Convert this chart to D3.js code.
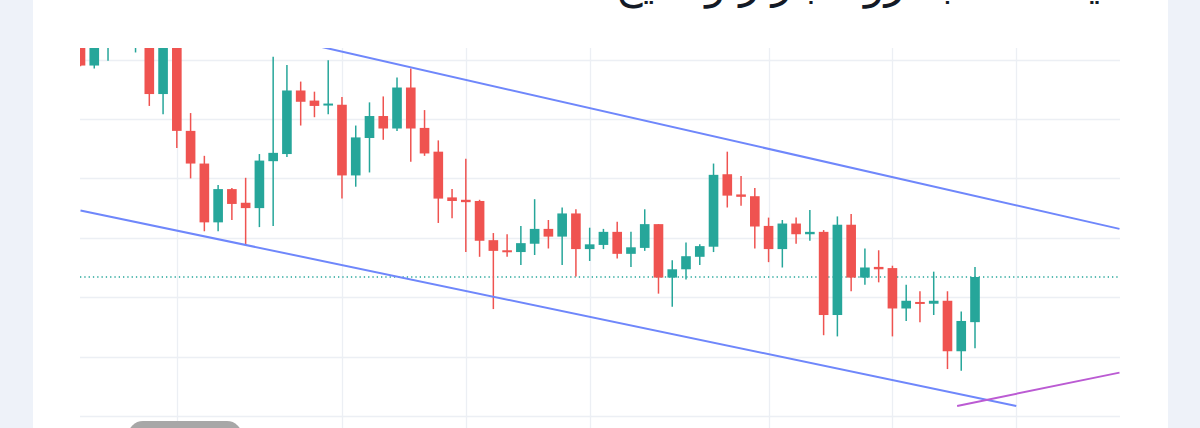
<!DOCTYPE html>
<html>
<head>
<meta charset="utf-8">
<script src="https://cdn.jsdelivr.net/npm/d3@7"></script>
<style>
  html, body { margin: 0; padding: 0; background: #eef2f9; }
  svg { display: block; }
</style>
</head>
<body>
<svg id="chart" width="1200" height="428"></svg>
<script>
// OHLC series (one candle per bar index)
const openPrices = [162.3,159.0,163.3,165.0,164.5,166.5,154.2,165.0,148.0,142.5,132.6,138.2,135.9,135.0,142.9,144.1,154.8,153.1,152.4,152.4,140.5,146.8,150.5,148.4,155.3,148.5,144.5,136.8,136.4,136.2,129.6,127.9,127.6,129.0,131.5,130.2,134.1,128.1,128.8,131.0,127.3,128.3,132.3,123.3,124.7,126.8,128.5,140.7,137.3,137.0,132.0,128.1,132.4,130.6,131.0,117.0,132.2,123.3,125.1,124.9,118.1,119.2,118.9,119.4,110.9,115.8];
const highPrices = [163.3,163.3,165.8,167.5,168.0,168.0,167.0,166.0,151.0,143.8,138.9,138.4,140.1,144.1,160.5,159.1,156.3,154.6,159.9,153.7,148.9,152.8,153.8,157.0,158.5,151.5,146.4,138.2,143.3,136.4,130.8,130.6,132.0,136.5,133.0,135.1,134.8,131.7,131.5,132.7,131.0,134.8,132.3,126.2,129.2,128.9,142.5,144.5,140.4,138.4,133.4,133.0,133.4,134.7,131.3,133.6,134.0,128.2,127.9,125.3,122.1,121.0,124.3,121.0,117.6,125.1];
const lowPrices = [158.9,158.5,159.8,164.0,161.2,152.2,150.8,145.1,140.0,131.1,131.1,133.0,128.8,131.8,132.0,143.6,148.9,150.3,150.8,136.6,138.6,141.0,146.5,148.0,142.8,143.8,132.5,133.3,127.6,126.8,118.0,126.8,125.4,127.1,128.2,125.4,123.5,126.1,128.1,126.5,125.1,127.8,120.6,118.4,123.0,125.4,127.6,135.1,135.4,128.2,125.9,125.0,129.0,129.5,113.6,113.4,121.0,122.1,122.5,113.4,116.0,115.8,117.0,107.9,107.6,111.4];
const closePrices = [159.0,162.6,165.0,166.5,167.0,154.2,165.5,148.0,142.5,132.6,138.2,135.7,135.0,143.0,144.3,154.8,152.9,152.2,152.6,140.5,146.9,150.5,148.4,155.3,148.4,144.2,136.6,136.2,136.0,129.5,127.8,127.6,129.1,131.5,130.2,134.1,128.1,128.9,131.0,127.3,128.4,132.3,123.3,124.7,126.9,128.6,140.6,137.1,136.9,131.9,128.1,132.4,130.6,131.0,117.0,132.2,123.3,125.0,124.7,118.1,119.4,118.9,119.4,110.9,116.0,123.4];

// Price grid levels and time grid positions (bar indices)
const priceTicks = [100, 110, 120, 130, 140, 150, 160];
const timeTicks = [7, 19, 28, 37, 50, 59, 68];

// Drawn trend lines: [barIndex, price] anchors
const upperChannel = [[17, 162.4], [75.5, 131.5]];
const lowerChannel = [[0, 134.6], [68, 101.7]];
const supportLine = [[63.7, 101.7], [75.5, 107.3]];

const titleText = "یک نگاه به روند بازار و نتایج";

const candles = openPrices.map((o, i) => ({
  i, open: o, high: highPrices[i], low: lowPrices[i], close: closePrices[i]
}));

const svg = d3.select("#chart");
const W = 1200, H = 428;
const plot = { left: 80, right: 1120, top: 48, bottom: 445 };

// page card
svg.append("rect").attr("x", 0).attr("y", 0).attr("width", W).attr("height", H).attr("fill", "#eef2f9");
svg.append("rect").attr("x", 33).attr("y", 0).attr("width", 1135).attr("height", H).attr("fill", "#ffffff");

const x = d3.scaleLinear().domain([0, 65]).range([80.5, 975]);
const y = d3.scaleLinear().domain([100, 160]).range([416, 59.6]);
const step = x(1) - x(0);
const bodyW = step * 0.7;

svg.append("defs").append("clipPath").attr("id", "plotClip")
  .append("rect")
  .attr("x", plot.left).attr("y", plot.top)
  .attr("width", plot.right - plot.left).attr("height", plot.bottom - plot.top);

const g = svg.append("g").attr("clip-path", "url(#plotClip)");

// grid
g.append("g").selectAll("line").data(priceTicks).join("line")
  .attr("x1", plot.left).attr("x2", plot.right)
  .attr("y1", d => Math.round(y(d)) + 0.5).attr("y2", d => Math.round(y(d)) + 0.5)
  .attr("stroke", "#eceff4").attr("stroke-width", 1.3);
g.append("g").selectAll("line").data(timeTicks).join("line")
  .attr("x1", d => Math.round(x(d)) + 0.5).attr("x2", d => Math.round(x(d)) + 0.5)
  .attr("y1", plot.top).attr("y2", plot.bottom)
  .attr("stroke", "#eceff4").attr("stroke-width", 1.3);

// last price line
const last = closePrices[closePrices.length - 1];
g.append("line")
  .attr("x1", plot.left).attr("x2", plot.right)
  .attr("y1", y(last)).attr("y2", y(last))
  .attr("stroke", "#26a69a").attr("stroke-width", 1.3)
  .attr("stroke-dasharray", "1.3,3");

// candles
const up = "#26a69a", down = "#ef5350";
const cg = g.append("g").selectAll("g").data(candles).join("g");
cg.append("line")
  .attr("x1", d => x(d.i)).attr("x2", d => x(d.i))
  .attr("y1", d => y(d.high)).attr("y2", d => y(d.low))
  .attr("stroke", d => d.close >= d.open ? up : down)
  .attr("stroke-width", 1.5);
cg.append("rect")
  .attr("x", d => x(d.i) - bodyW / 2)
  .attr("width", bodyW)
  .attr("y", d => y(Math.max(d.open, d.close)))
  .attr("height", d => Math.max(2, Math.abs(y(d.open) - y(d.close))))
  .attr("fill", d => d.close >= d.open ? up : down);

// trend lines
const line = d3.line().x(d => x(d[0])).y(d => y(d[1]));
g.append("path").datum(upperChannel).attr("d", line)
  .attr("fill", "none").attr("stroke", "#6f87fb").attr("stroke-width", 2);
g.append("path").datum(lowerChannel).attr("d", line)
  .attr("fill", "none").attr("stroke", "#6f87fb").attr("stroke-width", 2);
g.append("path").datum(supportLine).attr("d", line)
  .attr("fill", "none").attr("stroke", "#bb5bd3").attr("stroke-width", 2);

// heading (runs above the top of the view, only its lower part shows)
const title = svg.append("text")
  .attr("x", 1100).attr("y", -2)
  .attr("text-anchor", "end")
  .attr("font-family", "DejaVu Sans")
  .attr("font-size", 34)
  .attr("fill", "#141a26")
  .text(titleText);
const tw = title.node().getComputedTextLength();
title.attr("font-size", 34 * 485 / tw);

// grey pill button at the bottom
svg.append("rect")
  .attr("x", 128).attr("y", 421).attr("width", 114).attr("height", 30).attr("rx", 15)
  .attr("fill", "#a7a7a7");
</script>
</body>
</html>
